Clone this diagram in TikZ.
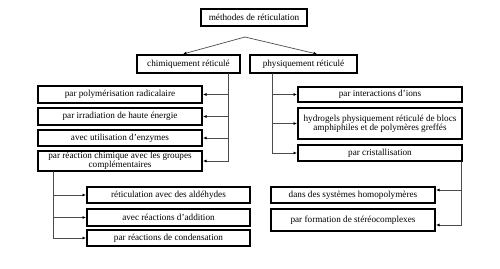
\documentclass[tikz,border=0pt]{standalone}
\usepackage{fontspec}
\setmainfont{Liberation Serif}
\usetikzlibrary{arrows.meta, calc, positioning}

\begin{document}
\begin{tikzpicture}[x=1pt, y=-1pt, >={Latex[length=3.5pt,width=3pt,color=black]}, line cap=round,
  boite/.style={draw, line width=2pt, fill=white, inner sep=0pt, align=center,
    minimum width=164pt, minimum height=17pt, font=\fontsize{9.2}{8.8}\selectfont},
  lien/.style={->, gray!60!black, line width=0.7pt}]

\useasboundingbox (0,0) rectangle (500,268);

% Titre et deux familles
\node[boite, minimum width=106pt] (meth) at (254,17.5) {méthodes de réticulation};
\node[boite, minimum width=103pt, minimum height=18pt] (chim) at (188.5,64) {chimiquement réticulé};
\node[boite, minimum width=107pt, minimum height=18pt] (phys) at (303.5,64) {physiquement réticulé};

% Colonne chimique
\node[boite] (L1) at (120,94.5) {par polymérisation radicalaire};
\node[boite] (L2) at (120,116.5) {par irradiation de haute énergie};
\node[boite, minimum height=16pt] (L3) at (120,138) {avec utilisation d'enzymes};
\node[boite, minimum height=20pt] (L4) at (120,161) {par réaction chimique avec les groupes\\complémentaires};

\node[boite, minimum width=163pt, minimum height=16pt] (S1) at (168.5,195) {réticulation avec des aldéhydes};
\node[boite, minimum width=163pt] (S2) at (168.5,217.5) {avec réactions d'addition};
\node[boite, minimum width=163pt, minimum height=16pt] (S3) at (168.5,238) {par réactions de condensation};

% Colonne physique
\node[boite, minimum height=15pt] (R1) at (380,94.5) {par interactions d'ions};
\node[boite, minimum height=31pt] (R2) at (380,123.5) {hydrogels physiquement réticulé de blocs\\amphiphiles et de polymères greffés};
\node[boite, minimum height=16pt] (R3) at (380,153) {par cristallisation};

\node[boite, minimum height=16pt] (T1) at (353,195) {dans des systèmes homopolymères};
\node[boite, minimum height=22pt] (T2) at (353,220) {par formation de stéréocomplexes};

% Points de branchement
\coordinate (sommet) at (245,37);
\coordinate (busL) at (228,0);
\coordinate (busR) at (272,0);
\coordinate (busS) at (53,0);
\coordinate (busT) at (461,0);

% Liens
\draw[lien] (sommet) -- ($(chim.north)+(-5.5,0)$);
\draw[lien] (sommet) -- ($(phys.north)+(13.5,0)$);

\foreach \n in {L1,L2,L3,L4}
  \draw[lien] (chim.south -| busL) |- (\n.east);
\foreach \n in {R1,R2,R3}
  \draw[lien] (phys.south -| busR) |- (\n.west);
\foreach \n in {S1,S2,S3}
  \draw[lien] (L4.south -| busS) |- (\n.west);
\draw[lien] (R3.south -| busT) |- ($(T1.east)+(0,-5)$);
\draw[lien] (R3.south -| busT) |- ($(T2.east)+(0,5)$);

\end{tikzpicture}
\end{document}
